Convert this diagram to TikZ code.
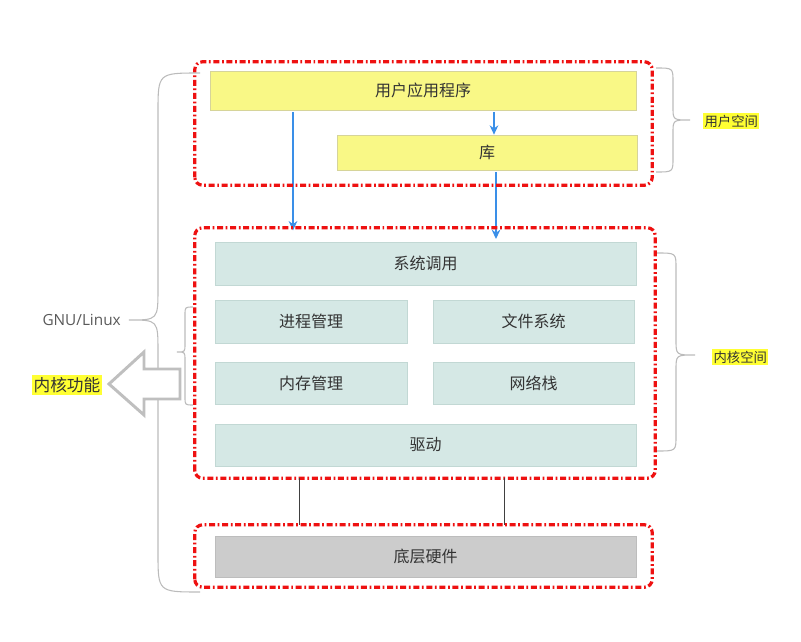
\documentclass[tikz,border=0pt]{standalone}
\usepackage{fontspec}
\setmainfont{Open Sans}
\newfontfamily\cjk{Noto Sans CJK SC}
\usetikzlibrary{arrows.meta}
\definecolor{redd}{HTML}{EE1111}
\definecolor{yfill}{HTML}{F9F886}
\definecolor{yline}{HTML}{D6D49A}
\definecolor{tfill}{HTML}{D5E8E5}
\definecolor{tline}{HTML}{C2D8D4}
\definecolor{gfill}{HTML}{CCCCCC}
\definecolor{gline}{HTML}{BDBDBD}
\definecolor{txtc}{HTML}{333333}
\definecolor{blu}{HTML}{3A8FE8}
\definecolor{brc}{HTML}{BBBBBB}
\definecolor{hly}{HTML}{FFFF33}
\begin{document}
\begin{tikzpicture}[x=0.75pt,y=-0.75pt,
  redbox/.style={draw=redd, line width=2.4pt, dash pattern=on 4.5pt off 2pt on 1.3pt off 2pt, rounded corners=6pt, inner sep=0pt},
  blk/.style={inner sep=0pt, text=txtc, font=\cjk\fontsize{12}{14}\selectfont, line width=0.5pt},
  ybox/.style={blk, draw=yline, fill=yfill},
  tbox/.style={blk, draw=tline, fill=tfill},
  gbox/.style={blk, draw=gline, fill=gfill},
  blarrow/.style={draw=blu, line width=2pt, -{Stealth[length=7pt,width=6.5pt]}},
  hwline/.style={draw=black!75, line width=0.6pt},
  bracepath/.style={draw=brc, line width=0.8pt},
  hl/.style={fill=hly, inner sep=1pt, text=txtc, font=\cjk\fontsize{10}{12}\selectfont},
]
\useasboundingbox (0,0) rectangle (801,642);

% user space
\node[ybox, minimum width=426*0.75pt, minimum height=39*0.75pt] (app) at (423,90.5) {用户应用程序};
\node[ybox, minimum width=300*0.75pt, minimum height=35*0.75pt] (lib) at (487,152.5) {库};

% kernel space
\node[tbox, minimum width=421*0.75pt, minimum height=43*0.75pt] (sys) at (425.5,263.5) {系统调用};
\node[tbox, minimum width=192*0.75pt, minimum height=43*0.75pt] (proc) at (311,321.5) {进程管理};
\node[tbox, minimum width=201*0.75pt, minimum height=43*0.75pt] (fs) at (533.5,321.5) {文件系统};
\node[tbox, minimum width=192*0.75pt, minimum height=42*0.75pt] (mem) at (311,383) {内存管理};
\node[tbox, minimum width=201*0.75pt, minimum height=42*0.75pt] (net) at (533.5,383) {网络栈};
\node[tbox, minimum width=421*0.75pt, minimum height=42*0.75pt] (drv) at (425.5,445) {驱动};

% hardware
\node[gbox, minimum width=421*0.75pt, minimum height=41*0.75pt] (hw) at (425.5,556.5) {底层硬件};

% red dash-dot group outlines (names used by connectors)
\path (423.5,123.5) node[minimum width=457*0.75pt, minimum height=123*0.75pt, inner sep=0pt] (ubox) {};
\path (425,353) node[minimum width=460*0.75pt, minimum height=250*0.75pt, inner sep=0pt] (kbox) {};
\path (423.5,556) node[minimum width=457*0.75pt, minimum height=62*0.75pt, inner sep=0pt] (hbox) {};

% blue arrows
\coordinate (a1) at (293,112);
\coordinate (a2) at (494,112);
\coordinate (a3) at (496,172);
\coordinate (e3) at (496,239);
\draw[blarrow] (a1) -- ([yshift=-2pt]a1 |- kbox.north);
\draw[blarrow] (a2) -- (a2 |- lib.north);
\draw[blarrow] (a3) -- (e3);

% red outlines drawn on top
\draw[redbox] (ubox.south west) rectangle (ubox.north east);
\draw[redbox] (kbox.south west) rectangle (kbox.north east);
\draw[redbox] (hbox.south west) rectangle (hbox.north east);

% kernel to hardware lines
\coordinate (h1) at (299,478);
\coordinate (h2) at (504,478);
\draw[hwline] (h1) -- (h1 |- hbox.north);
\draw[hwline] (h2) -- (h2 |- hbox.north);

% user space brace
\draw[bracepath] (656,68) .. controls (673,68) .. (673,82) -- (673,107)
  .. controls (673,120) .. (690,120) .. controls (673,120) .. (673,133)
  -- (673,158) .. controls (673,172) .. (656,172);
\node[hl, anchor=west] (ulab) at (703,121) {用户空间};

% kernel space brace
\draw[bracepath] (657,253) .. controls (676,253) .. (676,268) -- (676,340)
  .. controls (676,355) .. (695,355) .. controls (676,355) .. (676,370)
  -- (676,436) .. controls (676,451) .. (657,451);
\node[hl, anchor=west] (klab) at (712,357) {内核空间};

% GNU/Linux brace
\draw[bracepath] (200,73) .. controls (158,73) .. (158,112) -- (158,288)
  .. controls (158,320) .. (129,320) .. controls (158,320) .. (158,352)
  -- (158,553) .. controls (158,592) .. (200,592);
\node[anchor=east, text=black!65, font=\fontsize{11.5}{13}\selectfont, inner sep=0pt] (gnu) at (121,320) {GNU/Linux};

% small kernel-function brace
\draw[bracepath] (193,307) .. controls (185,307) .. (185,315) -- (185,344)
  .. controls (185,352) .. (177,352) .. controls (185,352) .. (185,360)
  -- (185,397) .. controls (185,405) .. (193,405);

% hollow arrow
\draw[draw=black!25, line width=2.2pt, fill=white, line join=miter]
  (109,384) -- (144,352) -- (144,369) -- (180,369) -- (180,399) -- (144,399) -- (144,415) -- cycle;
\node[hl, font=\cjk\fontsize{12.5}{14}\selectfont, inner sep=1.5pt] (kfun) at (67,385) {内核功能};
\end{tikzpicture}
\end{document}
